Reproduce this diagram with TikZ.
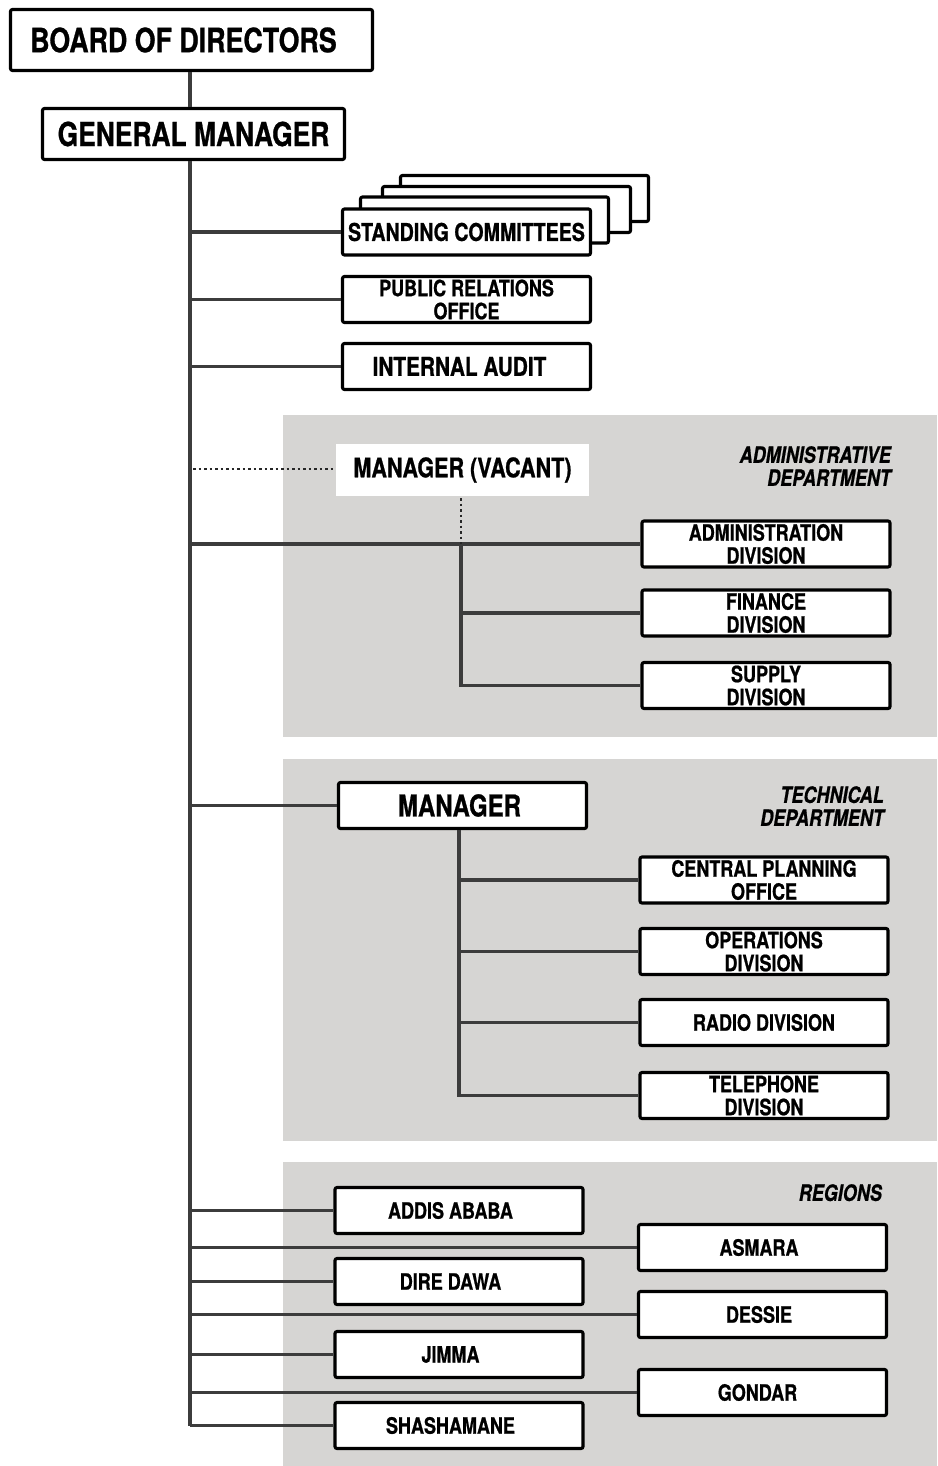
\documentclass[tikz,border=0pt]{standalone}
\usepackage{fontspec}
\setmainfont{TeX Gyre Heros}[FakeStretch=0.8, BoldFeatures={FakeBold=0.8}, BoldItalicFeatures={FakeBold=0.8}]
\definecolor{panel}{RGB}{214,213,211}
\definecolor{wire}{RGB}{60,60,60}
\tikzset{
  box/.style={draw=black, line width=3.1pt, rounded corners=2pt, fill=white,
    inner sep=0pt, minimum width=248pt, minimum height=46pt,
    font=\bfseries\fontsize{22.5}{23}\selectfont},
  twoline/.style={box, align=center},
  link/.style={draw=wire, line width=3.5pt},
  vacantlink/.style={draw=black!85, line width=2.8pt, dash pattern=on 2.6pt off 2.9pt},
  dept/.style={font=\bfseries\itshape\fontsize{22.5}{23}\selectfont, align=right,
    anchor=north east, inner sep=0pt},
}
% nudges a one-line caption left inside its box
\newcommand{\nudge}[2]{#2\hspace*{#1}}
\begin{document}
\begin{tikzpicture}[x=1pt,y=-1pt]
\useasboundingbox (0,0) rectangle (937,1466);

% department panels
\fill[panel] (283,415) rectangle (937,737);
\fill[panel] (283,759) rectangle (937,1141);
\fill[panel] (283,1162) rectangle (937,1466);

% top of the hierarchy
\node[box, minimum width=362pt, minimum height=61pt,
  font=\bfseries\fontsize{33.5}{35}\selectfont] (board) at (191.5,40) {\nudge{16pt}{BOARD OF DIRECTORS}};
\node[box, minimum width=302pt, minimum height=51pt,
  font=\bfseries\fontsize{33}{35}\selectfont] (gm) at (193.5,134) {GENERAL MANAGER};
\coordinate (trunk) at (190,0);

% staff offices
\node[box] (sc3) at (524.5,198.5) {};
\node[box] (sc2) at (506.5,209.5) {};
\node[box] (sc1) at (484.5,220) {};
\node[box, font=\bfseries\fontsize{24.5}{26}\selectfont] (sc) at (466.5,232) {STANDING COMMITTEES};
\node[twoline] (pr) at (466.5,299.5) {PUBLIC RELATIONS\\OFFICE};
\node[box, font=\bfseries\fontsize{26}{28}\selectfont] (ia) at (466.5,366.5) {\nudge{14pt}{INTERNAL AUDIT}};

% administrative department
\node[fill=white, minimum width=253pt, minimum height=52pt, inner sep=0pt,
  font=\bfseries\fontsize{27}{29}\selectfont] (vac) at (462.5,470) {MANAGER (VACANT)};
\node[dept] (admlabel) at (891,446) {ADMINISTRATIVE\\DEPARTMENT};
\node[twoline] (adm) at (766,544) {ADMINISTRATION\\DIVISION};
\node[twoline] (fin) at (766,613) {FINANCE\\DIVISION};
\node[twoline] (sup) at (766,685.5) {SUPPLY\\DIVISION};
\coordinate (admbus) at (461,0);

% technical department
\node[box, font=\bfseries\fontsize{30}{32}\selectfont] (mgr) at (462.5,805.5) {\nudge{6pt}{MANAGER}};
\node[dept] (techlabel) at (884,786) {TECHNICAL\\DEPARTMENT};
\node[twoline] (cpo) at (764,880) {CENTRAL PLANNING\\OFFICE};
\node[twoline] (ops) at (764,951.5) {OPERATIONS\\DIVISION};
\node[box] (rad) at (764,1022.5) {RADIO DIVISION};
\node[twoline] (tel) at (764,1095.5) {TELEPHONE\\DIVISION};
\coordinate (techbus) at (459,0);

% regions
\node[dept] (reglabel) at (882,1184) {REGIONS};
\node[box] (addis) at (459,1210.5) {\nudge{17pt}{ADDIS ABABA}};
\node[box] (dire) at (459,1281.5) {\nudge{17pt}{DIRE DAWA}};
\node[box] (jimma) at (459,1354.5) {\nudge{17pt}{JIMMA}};
\node[box] (shash) at (459,1425.5) {\nudge{17pt}{SHASHAMANE}};
\node[box] (asmara) at (762.5,1247.5) {\nudge{7pt}{ASMARA}};
\node[box] (dessie) at (762.5,1314.5) {\nudge{7pt}{DESSIE}};
\node[box] (gondar) at (762.5,1392.5) {\nudge{10pt}{GONDAR}};

% connectors
\draw[link] (board.south -| trunk) -- (gm.north -| trunk);
\draw[link] (gm.south -| trunk) -- (shash.west -| trunk);
\foreach \n in {sc,pr,ia,adm,mgr,addis,asmara,dire,dessie,jimma,gondar,shash}
  \draw[link] (\n.west -| trunk) -- (\n.west);
\draw[vacantlink] (vac.west -| trunk) ++(3,-1) -- ([yshift=1pt]vac.west);
\draw[vacantlink] (vac.south -| admbus) ++(0,2) -- (adm.west -| admbus);
\draw[link] (adm.west -| admbus) -- (sup.west -| admbus) -- (sup.west);
\draw[link] (fin.west -| admbus) -- (fin.west);
\draw[link] (mgr.south -| techbus) -- (tel.west -| techbus) -- (tel.west);
\foreach \n in {cpo,ops,rad}
  \draw[link] (\n.west -| techbus) -- (\n.west);
\end{tikzpicture}
\end{document}
